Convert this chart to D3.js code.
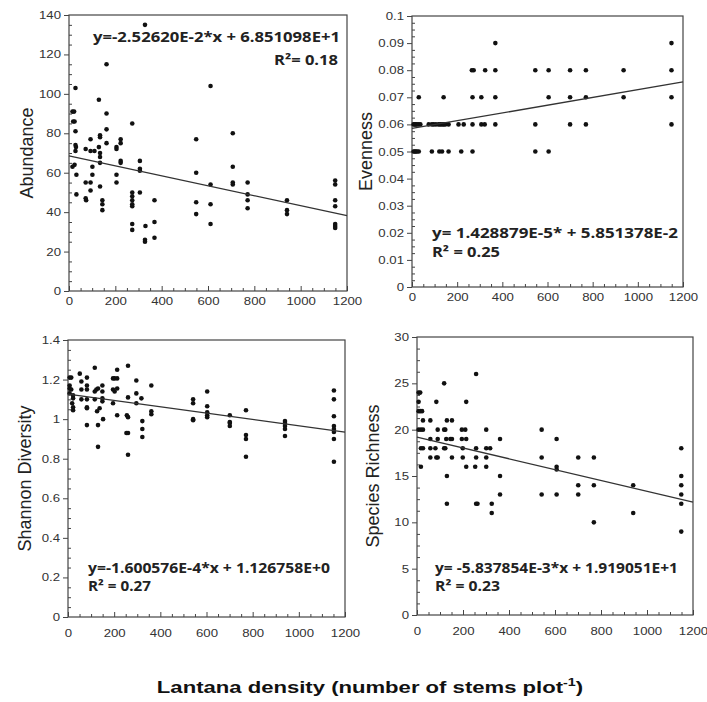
<!DOCTYPE html>
<html>
<head>
<meta charset="utf-8">
<script src="https://cdn.jsdelivr.net/npm/d3@7"></script>
<style>
  body { margin: 0; background: #fff; }
  svg { display: block; }
  .tick text { font-family: "Liberation Sans", Arial, sans-serif; font-size: 11px; fill: #333; }
  .tick line { stroke: #444; }
</style>
</head>
<body>
<svg id="chart" width="707" height="702"></svg>
<script>
// lantana stems per plot vs. value
var abundance = [
  [15,91],[22,91],[18,86],[24,86],[28,103],[28,81],[28,74],[30,73],[28,71],[15,63],[24,64],[32,59],[32,49],
  [72,55],[72,47],[74,46],[72,72],[93,77],[93,71],[110,71],[101,63],[93,55],[93,51],[101,59],
  [129,97],[134,79],[134,78],[129,73],[134,70],[134,68],[134,65],[134,53],[144,46],[144,44],[144,41],
  [162,115],[162,90],[162,82],[162,75],
  [205,73],[205,72],[205,59],[205,55],[223,77],[223,75],[223,66],[223,65],
  [273,85],[273,50],[273,48],[273,46],[273,44],[273,43],[273,34],[273,31],
  [306,66],[306,62],[306,61],[306,50],
  [328,135],[330,33],[328,26],[328,25],
  [369,46],[369,35],[369,27],
  [549,77],[549,60],[549,45],[549,39],
  [611,104],[611,54],[611,44],[611,34],
  [707,80],[707,63],[707,55],[707,54],
  [771,55],[771,49],[771,46],[771,42],
  [941,46],[941,41],[941,39],
  [1149,56],[1149,54],[1149,46],[1149,43],[1149,34],[1149,33],[1149,32]
];

var evenness = [
  [369,0.09],[1149,0.09],
  [265,0.08],[273,0.08],[324,0.08],[369,0.08],[546,0.08],[605,0.08],[700,0.08],[770,0.08],[937,0.08],[1149,0.08],
  [30,0.07],[140,0.07],[268,0.07],[307,0.07],[369,0.07],[605,0.07],[700,0.07],[770,0.07],[937,0.07],[1149,0.07],
  [7,0.06],[12,0.06],[17,0.06],[22,0.06],[30,0.06],[37,0.06],[74,0.06],[88,0.06],[96,0.06],[106,0.06],[118,0.06],
  [125,0.06],[133,0.06],[140,0.06],[147,0.06],[162,0.06],[206,0.06],[229,0.06],[268,0.06],[307,0.06],[322,0.06],
  [369,0.06],[546,0.06],[700,0.06],[770,0.06],[1149,0.06],
  [7,0.05],[12,0.05],[17,0.05],[22,0.05],[30,0.05],[88,0.05],[121,0.05],[133,0.05],[162,0.05],[218,0.05],[268,0.05],
  [546,0.05],[605,0.05]
];

var shannon = [
  [7,1.21],[14,1.21],[7,1.17],[7,1.155],[14,1.15],[7,1.13],[22,1.12],[22,1.105],[18,1.08],[22,1.06],[22,1.045],
  [51,1.23],[58,1.19],[58,1.15],[58,1.10],
  [82,1.21],[82,1.17],[82,1.15],[82,1.10],[82,1.06],[82,1.055],[82,0.97],
  [116,1.26],[116,1.14],[123,1.15],[130,1.155],[116,1.10],[126,1.04],[130,0.97],[130,0.86],
  [137,1.055],[149,1.17],[149,1.14],[149,1.105],[149,1.09],[152,1.0],
  [195,1.206],[202,1.206],[195,1.15],[202,1.14],[195,1.08],[213,1.25],[213,1.206],[213,1.155],[213,1.02],
  [260,1.27],[260,1.11],[255,1.02],[260,1.01],[253,0.93],[260,0.93],[260,0.82],
  [296,1.195],[296,1.13],[296,1.08],[318,1.105],[322,0.99],[322,0.95],[322,0.91],
  [361,1.17],[361,1.04],[361,1.025],
  [542,1.10],[542,1.08],[542,1.0],[542,0.995],
  [603,1.14],[603,1.065],[603,1.035],[603,1.02],[603,1.01],
  [701,1.02],[701,0.985],[701,0.98],[701,0.965],
  [771,1.045],[771,0.92],[771,0.90],[771,0.81],
  [940,0.99],[940,0.98],[940,0.965],[940,0.95],[940,0.915],
  [1152,1.145],[1152,1.10],[1152,1.015],[1152,0.965],[1152,0.95],[1152,0.935],[1152,0.90],[1152,0.785]
];

var richness = [
  [7,24],[14,24],[7,23],[7,22],[14,22],[22,22],[26,21],[7,20],[17,20],[26,20],[17,18],[26,18],[17,16],
  [58,21],[58,19],[58,18],[58,17],
  [84,23],[80,18],[84,17],[90,17],[90,20],[90,19],
  [118,25],[118,20],[123,20],[118,18],[123,18],[127,19],[130,21],[130,15],[130,12],
  [152,21],[145,19],[152,19],[152,17],
  [195,20],[210,20],[199,18],[199,17],[195,19],[214,19],[214,23],[214,16],
  [257,26],[257,18],[257,17],[253,16],[257,12],[263,12],
  [301,20],[301,18],[301,17],[301,16],[318,18],[325,12],[325,11],
  [361,19],[361,15],[361,13],
  [542,20],[542,17],[542,13],
  [607,19],[607,16],[607,15.7],[607,13],
  [701,17],[701,14],[701,13],
  [769,17],[769,14],[769,10],
  [940,14],[940,11],
  [1149,18],[1149,15],[1149,14],[1149,13],[1149,12],[1149,9]
];

var xTicks = [0, 200, 400, 600, 800, 1000, 1200];
var titles = ["Abundance", "Evenness", "Shannon Diversity", "Species Richness"];
var yMax = [140, 0.1, 1.4, 30];
var yStep = [20, 0.01, 0.2, 5];
var slopes = [-2.52620e-2, 1.428879e-5, -1.600576e-4, -5.837854e-3];
var intercepts = [6.851098e+1, 5.851378e-2, 1.126758, 1.919051e+1];
var equations = [
  "y=-2.52620E-2*x + 6.851098E+1",
  "y= 1.428879E-5* + 5.851378E-2",
  "y=-1.600576E-4*x + 1.126758E+0",
  "y= -5.837854E-3*x + 1.919051E+1"
];
var rSquared = ["R\u00b2= 0.18", "R\u00b2 = 0.25", "R\u00b2 = 0.27", "R\u00b2 = 0.23"];
var series = [abundance, evenness, shannon, richness];

// where each panel sits on the page
var frames = [
  {left: 69,  right: 347, top: 15,  bottom: 291, lab: 6,  ttl: 36, eq: [93, 42, 247],  r2: [274, 65, 64]},
  {left: 412, right: 683, top: 16,  bottom: 287, lab: 6,  ttl: 40, eq: [432, 238, 246], r2: [432, 257, 68]},
  {left: 68,  right: 345, top: 340, bottom: 617, lab: 12, ttl: 37, eq: [88, 573, 242],  r2: [88, 591, 63]},
  {left: 417, right: 693, top: 337, bottom: 615, lab: 12, ttl: 38, eq: [435, 573, 243], r2: [435, 591, 65]}
];

var svg = d3.select("#chart");
var sx = 1.2;  // the source figure is stretched sideways

series.forEach(function(pts, i) {
  var f = frames[i];
  var x = d3.scaleLinear().domain([0, 1200]).range([f.left, f.right]);
  var y = d3.scaleLinear().domain([0, yMax[i]]).range([f.bottom, f.top]);

  var n = Math.round(yMax[i] / yStep[i]);
  var yMajor = d3.range(n + 1).map(function(k) { return +(k * yStep[i]).toFixed(3); });
  var yMinor = d3.range(n * 4 + 1).filter(function(k) { return k % 4; })
    .map(function(k) { return k * yStep[i] / 4; });
  var xMinor = d3.range(25).filter(function(k) { return k % 4; })
    .map(function(k) { return k * 50; });

  var g = svg.append("g").attr("class", "panel");

  // minor ticks, inside
  g.append("g")
      .attr("transform", "translate(" + f.left + ",0)")
      .call(d3.axisLeft(y).tickValues(yMinor).tickSize(-3).tickFormat(""))
      .call(function(a) { a.select(".domain").remove(); });
  g.append("g")
      .attr("transform", "translate(0," + f.bottom + ")")
      .call(d3.axisBottom(x).tickValues(xMinor).tickSize(-3).tickFormat(""))
      .call(function(a) { a.select(".domain").remove(); });

  // major y ticks, outside
  var ya = g.append("g")
      .attr("transform", "translate(" + f.left + ",0)")
      .call(d3.axisLeft(y).tickValues(yMajor).tickSize(5).tickFormat(function(d) { return String(d); }));
  ya.select(".domain").remove();
  ya.selectAll(".tick text")
      .attr("x", -8 / sx)
      .attr("transform", "scale(" + sx + ",1)");

  // major x ticks
  var xa = g.append("g")
      .attr("transform", "translate(0," + f.bottom + ")")
      .call(d3.axisBottom(x).tickValues(xTicks).tickSize(-5).tickFormat(d3.format("d")));
  xa.select(".domain").remove();
  xa.selectAll(".tick text")
      .attr("y", f.lab)
      .attr("transform", "scale(" + sx + ",1)");

  // frame
  g.append("rect")
      .attr("x", f.left).attr("y", f.top)
      .attr("width", f.right - f.left).attr("height", f.bottom - f.top)
      .attr("fill", "none").attr("stroke", "#444").attr("stroke-width", 1.2);

  // points
  g.selectAll(".dot")
      .data(pts)
    .enter().append("circle")
      .attr("class", "dot")
      .attr("cx", function(d) { return x(d[0]); })
      .attr("cy", function(d) { return y(d[1]); })
      .attr("r", 2.3)
      .attr("fill", "#111");

  // fitted line
  var fit = [0, 1200].map(function(v) { return [v, slopes[i] * v + intercepts[i]]; });
  g.append("line")
      .attr("x1", x(fit[0][0])).attr("y1", y(fit[0][1]))
      .attr("x2", x(fit[1][0])).attr("y2", y(fit[1][1]))
      .attr("stroke", "#333").attr("stroke-width", 1.3);

  // axis title
  g.append("text")
      .attr("transform", "translate(" + (f.left - f.ttl) + "," + ((f.top + f.bottom) / 2) + ")rotate(-90)")
      .attr("text-anchor", "middle")
      .style("font-family", "'Liberation Sans', Arial, sans-serif")
      .style("font-size", "18px")
      .style("fill", "#222")
      .text(titles[i]);

  // regression text
  g.append("text")
      .attr("x", f.eq[0]).attr("y", f.eq[1])
      .attr("textLength", f.eq[2]).attr("lengthAdjust", "spacingAndGlyphs")
      .style("font-family", "'Open Sans', sans-serif")
      .style("font-weight", "bold").style("font-size", "14px").style("fill", "#222")
      .text(equations[i]);
  g.append("text")
      .attr("x", f.r2[0]).attr("y", f.r2[1])
      .attr("textLength", f.r2[2]).attr("lengthAdjust", "spacingAndGlyphs")
      .style("font-family", "'Open Sans', sans-serif")
      .style("font-weight", "bold").style("font-size", "14px").style("fill", "#222")
      .text(rSquared[i]);
});

// shared x title
var xt = svg.append("text")
    .attr("transform", "translate(370,693) scale(1.3,1)")
    .attr("text-anchor", "middle")
    .style("font-family", "'Liberation Sans', Arial, sans-serif")
    .style("font-weight", "bold").style("font-size", "17px").style("fill", "#111");
xt.append("tspan").text("Lantana density (number of stems plot");
xt.append("tspan").attr("dy", -7).style("font-size", "11px").text("-1");
xt.append("tspan").attr("dy", 7).text(")");
</script>
</body>
</html>
